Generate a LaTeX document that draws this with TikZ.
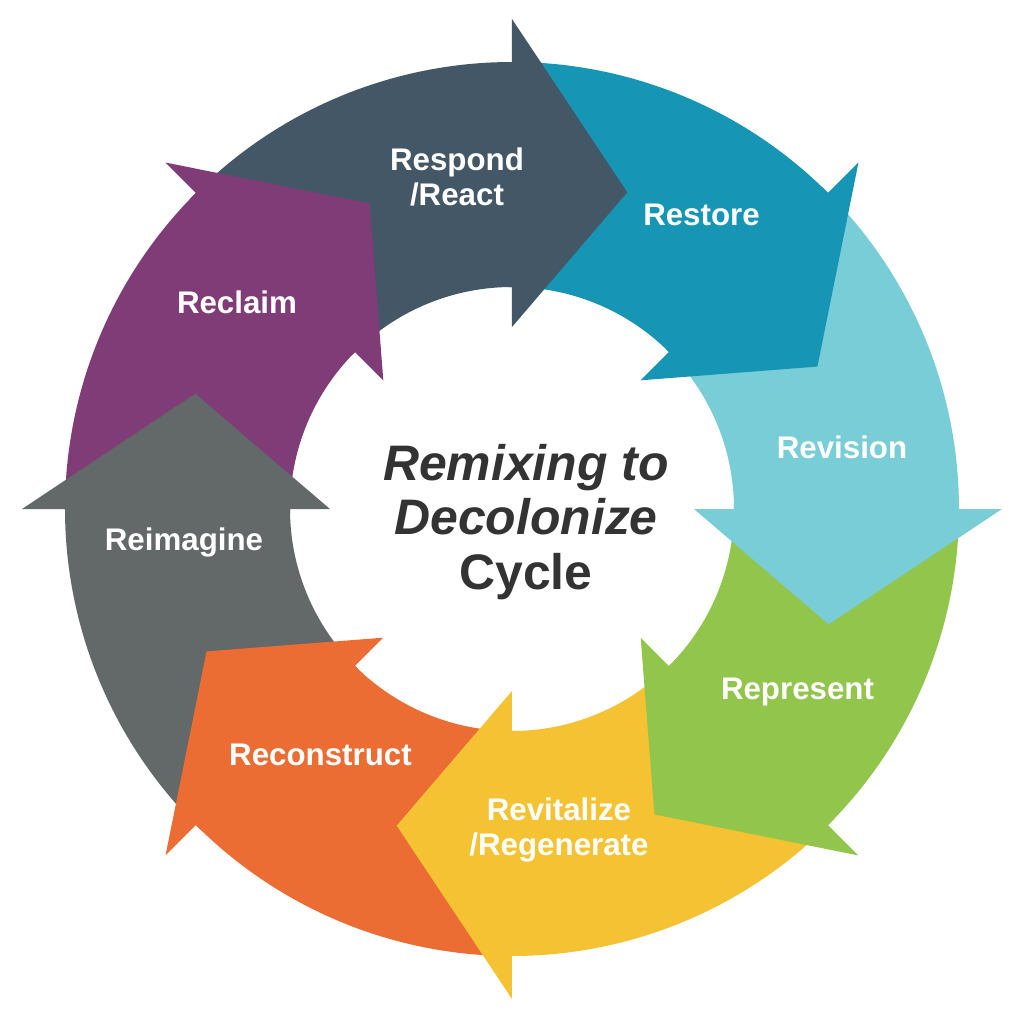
\documentclass[tikz,border=0pt]{standalone}
\usepackage{fontspec}
\setmainfont{Liberation Sans}
\usetikzlibrary{positioning}
\definecolor{respondc}{RGB}{67,87,102}
\definecolor{restorec}{RGB}{23,149,181}
\definecolor{revisionc}{RGB}{120,205,215}
\definecolor{representc}{RGB}{146,197,75}
\definecolor{revitalizec}{RGB}{244,194,50}
\definecolor{reconstructc}{RGB}{236,109,51}
\definecolor{reimaginec}{RGB}{99,104,104}
\definecolor{reclaimc}{RGB}{127,60,119}

\begin{document}
\begin{tikzpicture}[>=latex,
    lbl/.style={text=white, align=center, font=\bfseries\fontsize{17.8}{19.9}\selectfont},
    ttl/.style={text=black!80, align=center, font=\bfseries\fontsize{28.4}{30.8}\selectfont}]
    \useasboundingbox (-10.24,-10.22) rectangle (10.24,10.18);
    % ring pieces, then the heads on top
    \foreach \a/\c in {90/respondc,45/restorec,0/revisionc,-45/representc,-90/revitalizec,-135/reconstructc,180/reimaginec,135/reclaimc}
        \fill[\c] (\a+45:8.94) arc[start angle=\a+45, end angle=\a, radius=8.94]
            -- (\a:4.44) arc[start angle=\a, end angle=\a+45, radius=4.44] -- cycle;
    \foreach \a/\c in {90/respondc,45/restorec,0/revisionc,-45/representc,-90/revitalizec,-135/reconstructc,180/reimaginec,135/reclaimc}
        \fill[\c] (\a+1:4.44) -- (\a:4.44) -- (\a:3.64) -- (\a-20:6.74) -- (\a:9.80) -- (\a:8.94) -- (\a+1:8.94) -- cycle;
    \node[lbl] at (-1.10,6.64) (resp) {Respond\\/React};
    \node[lbl] at (3.79,5.89) (rest) {Restore};
    \node[lbl] at (6.60,1.24) (revi) {Revision};
    \node[lbl] at (5.71,-3.66) (repr) {Represent};
    \node[lbl] at (0.94,-6.42) (revt) {Revitalize\\/Regenerate};
    \node[lbl] at (-3.83,-4.92) (reco) {Reconstruct};
    \node[lbl] at (-6.56,-0.66) (reim) {Reimagine};
    \node[lbl] at (-5.50,4.14) (recl) {Reclaim};
    \node[ttl] at (0.28,-0.26) (cyc) {\itshape Remixing to\\\itshape Decolonize\\Cycle};
\end{tikzpicture}
\end{document}
